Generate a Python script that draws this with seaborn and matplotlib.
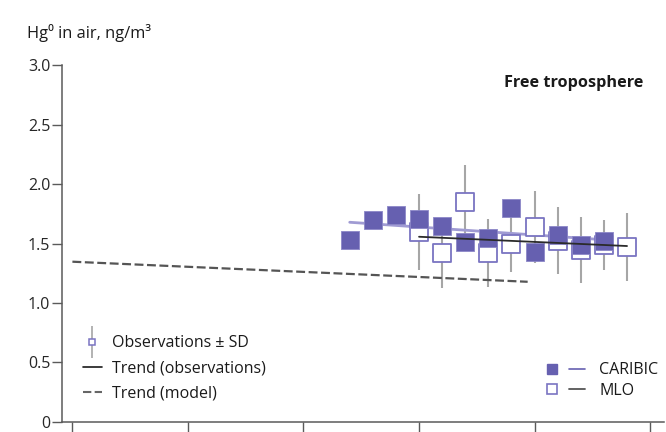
import numpy as np
import pandas as pd
import matplotlib
matplotlib.use("Agg")
import matplotlib.pyplot as plt
import seaborn as sns
from matplotlib.lines import Line2D
from matplotlib.legend_handler import HandlerTuple

# Annual mean Hg0 in the free troposphere
caribic_years = [2002, 2003, 2004, 2005, 2006, 2007, 2008, 2009, 2010, 2011, 2012, 2013]
caribic_hg = [1.53, 1.70, 1.74, 1.71, 1.645, 1.515, 1.55, 1.80, 1.43, 1.575, 1.49, 1.52]

mlo_years = [2005, 2006, 2007, 2008, 2009, 2010, 2011, 2012, 2013, 2014]
mlo_hg = [1.595, 1.42, 1.85, 1.42, 1.50, 1.64, 1.525, 1.447, 1.49, 1.472]
mlo_sd = [0.32, 0.295, 0.31, 0.285, 0.235, 0.30, 0.28, 0.28, 0.21, 0.285]

# Linear trends (start/end of fitted period)
caribic_trend_years = [2002, 2013]
caribic_trend_hg = [1.68, 1.533]
mlo_trend_years = [2005, 2014]
mlo_trend_hg = [1.558, 1.48]
model_trend_years = [1990, 2009.7]
model_trend_hg = [1.348, 1.179]

y_ticks = [0, 0.5, 1.0, 1.5, 2.0, 2.5, 3.0]
y_ticklabels = ["0", "0.5", "1.0", "1.5", "2.0", "2.5", "3.0"]
x_ticks = [1990, 1995, 2000, 2005, 2010, 2015]

PURPLE = "#6660b0"
PURPLE_EDGE = "#7a74c2"
TREND_PURPLE = "#a09bd3"
BAR_GREY = "#a6a6a6"
AXIS_GREY = "#5a5a5a"

sns.set_theme(style="white")
plt.rcParams["font.family"] = ["Open Sans", "DejaVu Sans"]
plt.rcParams["text.color"] = "#1a1a1a"

fig = plt.figure(figsize=(6.66, 4.32), dpi=100)
ax = fig.add_axes([0.0931, 0.0236, 0.9039, 0.8248])

caribic = pd.DataFrame({"year": caribic_years, "hg": caribic_hg})
mlo = pd.DataFrame({"year": mlo_years, "hg": mlo_hg, "sd": mlo_sd})

# SD bars for MLO
ax.errorbar(mlo["year"], mlo["hg"], yerr=mlo["sd"], fmt="none",
            ecolor=BAR_GREY, elinewidth=1.5, capsize=0, zorder=1)

# CARIBIC trend below the markers
sns.lineplot(x=caribic_trend_years, y=caribic_trend_hg, ax=ax,
             color=TREND_PURPLE, linewidth=2.0, zorder=2)

sns.scatterplot(data=mlo, x="year", y="hg", ax=ax, marker="s", s=150,
                facecolor="white", edgecolor=PURPLE_EDGE, linewidth=1.3, zorder=3)
sns.scatterplot(data=caribic, x="year", y="hg", ax=ax, marker="s", s=160,
                color=PURPLE, edgecolor="#8c87c8", linewidth=0.6, zorder=4)

sns.lineplot(x=mlo_trend_years, y=mlo_trend_hg, ax=ax,
             color="#2b2b2b", linewidth=1.3, zorder=5)
sns.lineplot(x=model_trend_years, y=model_trend_hg, ax=ax,
             color="#555555", linewidth=1.6, linestyle=(0, (4, 1.6)), zorder=5)

ax.set_xlim(1989.55, 2015.6)
ax.set_ylim(0, 3.0)
ax.set_xticks(x_ticks)
ax.set_xticklabels([])
ax.set_yticks(y_ticks)
ax.set_yticklabels(y_ticklabels)
ax.set_xlabel("")
ax.set_ylabel("")

for side in ("top", "right"):
    ax.spines[side].set_visible(False)
for side in ("left", "bottom"):
    ax.spines[side].set_color(AXIS_GREY)
    ax.spines[side].set_linewidth(1.1)
ax.tick_params(axis="both", which="major", direction="out", length=7,
               width=1.0, color=AXIS_GREY, labelsize=11.5, pad=1.5,
               left=True, bottom=True)

fig.text(0.041, 0.923, "Hg\u2070 in air, ng/m\u00b3", fontsize=11.8, va="center", ha="left")
ax.text(0.966, 0.951, "Free troposphere", transform=ax.transAxes,
        fontsize=11.7, fontweight="bold", ha="right", va="center")

# Legend: symbols and trend types
obs_handle = (Line2D([], [], color=BAR_GREY, marker="|", markersize=23,
                     markeredgewidth=1.2, linestyle="none"),
              Line2D([], [], marker="s", markersize=5, markerfacecolor="white",
                     markeredgecolor=PURPLE_EDGE, markeredgewidth=1.1, linestyle="none"))
trend_obs = Line2D([], [], color="#1a1a1a", linewidth=1.2)
trend_model = Line2D([], [], color="#666666", linewidth=1.5, linestyle=(0, (4, 1.6)))
leg1 = ax.legend([obs_handle, trend_obs, trend_model],
                 ["Observations \u00b1 SD", "Trend (observations)", "Trend (model)"],
                 handler_map={tuple: HandlerTuple(ndivide=1)},
                 loc="upper left", bbox_to_anchor=(0.024, 0.261), frameon=False,
                 fontsize=11.5, handlelength=1.2, handletextpad=0.6,
                 labelspacing=0.57, borderaxespad=0)
ax.add_artist(leg1)

caribic_handle = (Line2D([], [], marker="s", markersize=6.5, color=PURPLE, linestyle="none"),
                  Line2D([], [], color=PURPLE, linewidth=1.2))
mlo_handle = (Line2D([], [], marker="s", markersize=6.5, markerfacecolor="white",
                     markeredgecolor=PURPLE_EDGE, markeredgewidth=1.2, linestyle="none"),
              Line2D([], [], color="#555555", linewidth=1.3))
ax.legend([caribic_handle, mlo_handle], ["CARIBIC", "MLO"],
          handler_map={tuple: HandlerTuple(ndivide=None, pad=0.55)},
          loc="upper left", bbox_to_anchor=(0.790, 0.185), frameon=False,
          fontsize=11.5, handlelength=2.6, handletextpad=0.85,
          labelspacing=0.28, borderaxespad=0)

fig.savefig("out.png", dpi=100)
